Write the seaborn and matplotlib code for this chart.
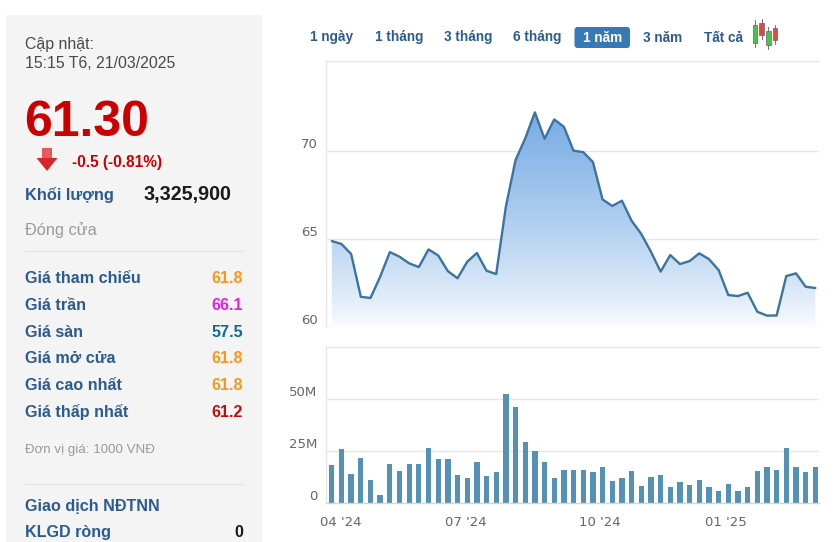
import numpy as np
import pandas as pd
import matplotlib
matplotlib.use("Agg")
import matplotlib.pyplot as plt
from matplotlib.patches import Rectangle, FancyBboxPatch, Polygon
import seaborn as sns

# ---------------- data ----------------
weeks = list(range(51))
price = [64.87, 64.70, 64.13, 61.70, 61.63, 62.84, 64.24, 63.98, 63.60, 63.39,
         64.39, 64.05, 63.16, 62.75, 63.69, 64.19, 63.18, 62.99, 66.82, 69.47,
         70.70, 72.18, 70.68, 71.78, 71.36, 70.00, 69.92, 69.36, 67.23, 66.86,
         67.16, 66.02, 65.27, 64.26, 63.13, 64.07, 63.56, 63.73, 64.17, 63.84,
         63.22, 61.80, 61.74, 61.93, 60.85, 60.63, 60.64, 62.88, 63.03, 62.27,
         62.20]
volume_m = [18.5, 25.8, 14.2, 21.5, 11.3, 4.0, 19.0, 15.5, 19.0, 19.0,
            26.3, 21.0, 21.0, 13.7, 11.9, 19.7, 13.2, 14.8, 52.4, 46.3,
            29.4, 25.2, 19.7, 11.9, 16.1, 16.1, 16.1, 14.8, 17.3, 10.6,
            11.9, 15.5, 8.4, 12.6, 13.7, 7.7, 10.0, 8.9, 11.3, 7.6,
            6.0, 9.4, 6.0, 7.6, 15.5, 17.3, 16.1, 26.3, 17.3, 14.8, 17.3]
x_tick_pos = [0.95, 13.9, 27.7, 40.7]
x_tick_labels = ["04 '24", "07 '24", "10 '24", "01 '25"]
price_ticks = [60, 65, 70]
vol_ticks = [0, 25, 50]
vol_tick_labels = ["0", "25M", "50M"]

buttons = ["1 ngày", "1 tháng", "3 tháng", "6 tháng", "1 năm", "3 năm", "Tất cả"]
button_x = [332, 398.8, 467.7, 537.3, 602.5, 663, 723.7]
active_button = "1 năm"

row_labels = ["Giá tham chiếu", "Giá trần", "Giá sàn", "Giá mở cửa", "Giá cao nhất", "Giá thấp nhất"]
row_values = ["61.8", "66.1", "57.5", "61.8", "61.8", "61.2"]
row_colors = ["#f39a1e", "#e61ee6", "#0d6a96", "#f39a1e", "#f39a1e", "#c30d0d"]

df_p = pd.DataFrame({"week": weeks, "price": price})
df_v = pd.DataFrame({"week": weeks, "volume": volume_m})

# ---------------- figure ----------------
sns.set_style("white")
FONT = ["Liberation Sans", "DejaVu Sans"]
plt.rcParams["font.family"] = FONT

W, H = 833, 542
fig = plt.figure(figsize=(W / 100, H / 100), dpi=100)
fig.patch.set_facecolor("white")

# overlay axes in pixel coordinates
ov = fig.add_axes([0, 0, 1, 1], zorder=0)
ov.set_xlim(0, W)
ov.set_ylim(H, 0)
ov.axis("off")
ov.patch.set_alpha(0)

BLUE = "#2c5a92"
ov.add_patch(Rectangle((6, 15), 256, 540, facecolor="#f4f4f4", edgecolor="none"))

def txt(x, y, s, size, color, weight="normal", ha="left"):
    ov.text(x, y, s, fontsize=size, color=color, fontweight=weight, ha=ha,
            va="baseline", family=FONT)

txt(25, 49.5, "Cập nhật:", 11.4, "#4a4a4a")
txt(25, 68.5, "15:15 T6, 21/03/2025", 11.4, "#4a4a4a")
txt(24, 136.5, "61.30", 36, "#cc0000", "bold")
# arrow
ov.add_patch(Rectangle((42, 148), 10, 11, facecolor="#e8585c", edgecolor="none"))
ov.add_patch(Polygon([(36.5, 158), (57.5, 158), (47, 171)], closed=True,
                     facecolor="#d8262c", edgecolor="none"))
txt(72, 166.5, "-0.5 (-0.81%)", 11.2, "#cc0000", "bold")
txt(25, 200, "Khối lượng", 11.8, BLUE, "bold")
txt(143, 200, "3,325,900", 14.2, "#1a1a1a", "bold")
txt(25, 235, "Đóng cửa", 11.8, "#9a9a9a")
ov.plot([25, 243], [251, 251], color="#e4e4e4", lw=1)

row_y = [283.3, 310, 336.7, 363.3, 390, 416.7]
for lab, val, col, yy in zip(row_labels, row_values, row_colors, row_y):
    txt(25, yy, lab, 11.6, BLUE, "bold")
    txt(243, yy, val, 11.6, col, "bold", ha="right")
txt(25, 453.3, "Đơn vị giá: 1000 VNĐ", 9.6, "#9a9a9a")
ov.plot([25, 243], [484, 484], color="#e4e4e4", lw=1)
txt(25, 510.7, "Giao dịch NĐTNN", 11.6, BLUE, "bold")
txt(25, 536.7, "KLGD ròng", 11.6, BLUE, "bold")
txt(243, 536.7, "0", 11.6, "#1a1a1a", "bold", ha="right")

# period buttons
for b, bx in zip(buttons, button_x):
    if b == active_button:
        ov.add_patch(FancyBboxPatch((574.5, 27), 55.5, 21,
                                    boxstyle="round,pad=0,rounding_size=3",
                                    facecolor="#3778b7", edgecolor="none"))
        ov.text(bx, 41.5, b, fontsize=9.8, color="white", fontweight="bold",
                ha="center", va="baseline", family=FONT)
    else:
        ov.text(bx, 41.5, b, fontsize=9.8, color=BLUE, fontweight="bold",
                ha="center", va="baseline", family=FONT)

# candlestick icon
candles = [(752.7, 20, 46.5, 25, 43, "#4cc24c"),
           (759.3, 18.5, 39, 23, 35, "#e04848"),
           (766.0, 27, 48.5, 30.5, 45, "#4cc24c"),
           (772.7, 24.5, 43.5, 28, 40, "#e04848")]
for cx, w0, w1, b0, b1, col in candles:
    ov.plot([cx + 2.3, cx + 2.3], [w0, w1], color="#777777", lw=0.8, zorder=2)
    ov.add_patch(Rectangle((cx, b0), 4.6, b1 - b0, facecolor=col,
                           edgecolor="#666666", lw=0.5, zorder=3))

# ---------------- price chart ----------------
L, R = 326 / W, 819 / W
axp = fig.add_axes([L, 1 - 326.7 / H, R - L, (326.7 - 61) / H], zorder=2)
XMIN, XMAX = -0.6, 50.38
PMIN, PMAX = 60, 75.1

poly = axp.fill_between(df_p["week"], df_p["price"], PMIN, color="none", lw=0)
grad_y = np.linspace(PMIN, PMAX, 300)
t = np.clip((grad_y - 60) / 13.0, 0, 1) ** 0.8
top = np.array([112, 167, 227]) / 255
bot = np.array([252, 253, 255]) / 255
cols = bot[None, :] * (1 - t[:, None]) + top[None, :] * t[:, None]
img = np.repeat(cols[:, None, :], 2, axis=1)
im = axp.imshow(img, extent=[XMIN, XMAX, PMIN, PMAX], origin="lower",
                aspect="auto", zorder=1, interpolation="bilinear")
im.set_clip_path(poly.get_paths()[0], transform=axp.transData)

sns.lineplot(data=df_p, x="week", y="price", ax=axp, color="#3b74a0",
             linewidth=1.7, zorder=3)
axp.set_xlim(XMIN, XMAX)
axp.set_ylim(PMIN, PMAX)
axp.set_yticks(price_ticks)
axp.set_yticklabels([str(v) for v in price_ticks])
axp.set_xticks([])
axp.set_xlabel("")
axp.set_ylabel("")
axp.grid(axis="y", color="#e6e6e6", lw=1.0)
axp.set_axisbelow(True)
for s in ["right", "bottom"]:
    axp.spines[s].set_visible(False)
for s in ["left", "top"]:
    axp.spines[s].set_color("#e6e6e6")
    axp.spines[s].set_linewidth(1.0)
axp.tick_params(axis="y", length=0, pad=6, labelsize=9.5, labelcolor="#666666")
for lab in axp.get_yticklabels():
    lab.set_family("DejaVu Sans")
    lab.set_verticalalignment("bottom")

# ---------------- volume chart ----------------
axv = fig.add_axes([L, 1 - 503.3 / H, R - L, (503.3 - 346.7) / H], zorder=2)
sns.barplot(data=df_v, x="week", y="volume", ax=axv, color="#5590b5",
            width=0.55, saturation=1, order=weeks, edgecolor="none", linewidth=0)
axv.set_xlim(XMIN, XMAX)
axv.set_ylim(0, 75)
axv.set_yticks(vol_ticks)
axv.set_yticklabels(vol_tick_labels)
axv.set_xticks(x_tick_pos)
axv.set_xticklabels(x_tick_labels)
axv.set_xlabel("")
axv.set_ylabel("")
axv.grid(axis="y", color="#e6e6e6", lw=1.0)
axv.set_axisbelow(True)
axv.spines["right"].set_visible(False)
for s in ["left", "top"]:
    axv.spines[s].set_color("#e6e6e6")
    axv.spines[s].set_linewidth(1.0)
axv.spines["bottom"].set_color("#ccd6eb")
axv.spines["bottom"].set_linewidth(1.0)
axv.tick_params(axis="y", length=0, pad=6, labelsize=9.5, labelcolor="#666666")
axv.tick_params(axis="x", length=7, width=0.8, color="#ccd6eb", pad=2,
                labelsize=9.5, labelcolor="#666666")
for lab in axv.get_yticklabels():
    lab.set_family("DejaVu Sans")
    lab.set_verticalalignment("bottom")
for lab in axv.get_xticklabels():
    lab.set_family("DejaVu Sans")

fig.savefig("out.png", dpi=100, facecolor="white")
